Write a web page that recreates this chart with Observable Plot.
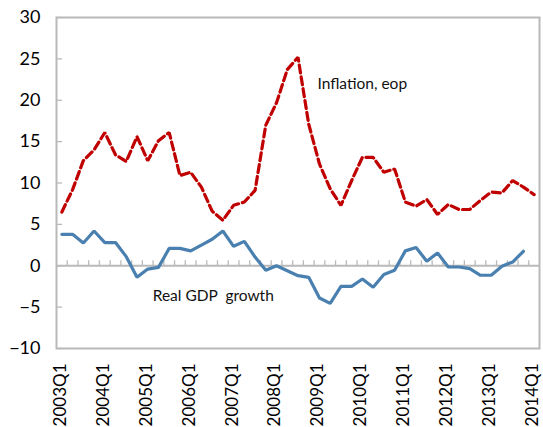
<!DOCTYPE html>
<html>
<head>
<meta charset="utf-8">
<script src="https://cdn.jsdelivr.net/npm/d3@7"></script>
<script src="https://cdn.jsdelivr.net/npm/@observablehq/plot@0.6"></script>
<style>
  html, body { margin: 0; padding: 0; background: #fff; }
  #chart svg { display: block; }
</style>
</head>
<body>
<div id="chart"></div>
<script>
// Quarterly categories, 2003Q1 – 2014Q1
const quarters = [
  "2003Q1","2003Q2","2003Q3","2003Q4",
  "2004Q1","2004Q2","2004Q3","2004Q4",
  "2005Q1","2005Q2","2005Q3","2005Q4",
  "2006Q1","2006Q2","2006Q3","2006Q4",
  "2007Q1","2007Q2","2007Q3","2007Q4",
  "2008Q1","2008Q2","2008Q3","2008Q4",
  "2009Q1","2009Q2","2009Q3","2009Q4",
  "2010Q1","2010Q2","2010Q3","2010Q4",
  "2011Q1","2011Q2","2011Q3","2011Q4",
  "2012Q1","2012Q2","2012Q3","2012Q4",
  "2013Q1","2013Q2","2013Q3","2013Q4",
  "2014Q1"
];

// Consumer price inflation, end of period, % y/y
const inflation = [
  6.5, 9.2, 12.7, 14.0,
  16.1, 13.4, 12.6, 15.6,
  12.7, 15.1, 16.1, 10.9,
  11.3, 9.5, 6.6, 5.5,
  7.3, 7.7, 9.1, 17.0,
  19.7, 23.7, 25.2, 17.1,
  12.3, 9.3, 7.3, 10.3,
  13.1, 13.1, 11.3, 11.7,
  7.7, 7.2, 8.0, 6.2,
  7.4, 6.8, 6.8, 7.9,
  8.9, 8.8, 10.3, 9.5,
  8.6
];

// Real GDP growth, % y/y (2014Q1 not yet available)
const gdpGrowth = [
  3.8, 3.8, 2.75, 4.2,
  2.8, 2.8, 1.1, -1.4,
  -0.4, -0.2, 2.1, 2.1,
  1.8, 2.5, 3.2, 4.2,
  2.35, 2.95, 1.05, -0.55,
  0.0, -0.6, -1.2, -1.4,
  -3.9, -4.55, -2.5, -2.5,
  -1.6, -2.6, -1.05, -0.55,
  1.8, 2.2, 0.55, 1.55,
  -0.15, -0.15, -0.35, -1.15,
  -1.15, -0.05, 0.45, 1.75,
  null
];

const yTicks = [-10, -5, 0, 5, 10, 15, 20, 25, 30];
const xTickLabels = quarters.filter(q => q.endsWith("Q1"));

const rows = quarters.map((q, i) => ({quarter: q, inflation: inflation[i], gdp: gdpGrowth[i]}));

const W = 543, H = 427;
const margin = {top: 17, right: 4, bottom: 79, left: 56};
const step = (W - margin.left - margin.right) / quarters.length;
const grey = "#b9b9b9";

const chart = Plot.plot({
  width: W,
  height: H,
  marginTop: margin.top,
  marginRight: margin.right,
  marginBottom: margin.bottom,
  marginLeft: margin.left,
  style: {fontFamily: "Lato, 'Open Sans', sans-serif", background: "#fff", color: "#000"},
  x: {type: "point", domain: quarters, padding: 0.5},
  y: {domain: [-10, 30]},
  marks: [
    Plot.frame({stroke: grey, strokeWidth: 2}),
    Plot.ruleY([0], {stroke: grey, strokeWidth: 2}),
    // category dividers along the zero line
    Plot.ruleX(quarters.slice(1), {x: d => d, y1: 0, y2: 0.6, dx: -step / 2, stroke: grey, strokeWidth: 1.3}),
    Plot.axisY(yTicks, {
      tickSize: -6, tickPadding: 22, stroke: grey, strokeWidth: 1.3,
      fontSize: 18, fill: "#000", label: null
    }),
    Plot.axisX(xTickLabels, {
      tickSize: 0, tickPadding: 15, tickRotate: -90,
      fontSize: 17, fill: "#000", label: null, dx: -1.5
    }),
    Plot.line(rows, {x: "quarter", y: "gdp", stroke: "#4a80b0", strokeWidth: 3.2, strokeLinejoin: "miter"}),
    Plot.line(rows, {x: "quarter", y: "inflation", stroke: "#c00000", strokeWidth: 3.2,
      strokeDasharray: "8,4", strokeLinejoin: "miter"}),
    Plot.text(["Inflation, eop"], {x: () => "2009Q1", y: () => 22, text: d => d, textAnchor: "start",
      dx: -2, fontSize: 15.5, fill: "#111"}),
    Plot.text(["Real GDP\u00a0 growth"], {x: () => "2005Q1", y: () => -3.65, text: d => d, textAnchor: "start",
      dx: 5, fontSize: 15.5, fill: "#111"})
  ]
});

document.getElementById("chart").appendChild(chart);
</script>
</body>
</html>
